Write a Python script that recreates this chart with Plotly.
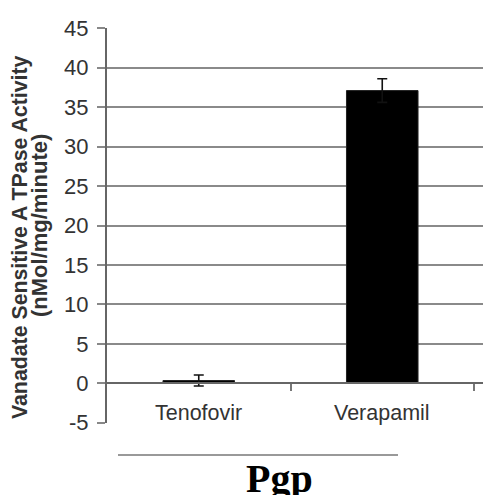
import plotly.graph_objects as go

categories = ["Tenofovir", "Verapamil"]
activity = [0.35, 37.1]
errors = [0.7, 1.5]
y_ticks = list(range(-5, 50, 5))
y_tick_text = [str(v) for v in y_ticks]
y_min, y_max = -5, 45
group_label = "Pgp"
y_title_lines = ["Vanadate Sensitive A TPase Activity", "(nMol/mg/minute)"]

# page has an 8px body margin; figure sized so it fits the 491x495 window
OFF = 8
W, H = 491 - OFF, 495 - OFF
PL, PT, PB = 107, 28, 423          # plot box edges in window pixels
PW = 491 - PL
ml, mt = PL - OFF, PT - OFF
mb = H - (PB - OFF)
mr = 0
x_range = [-0.5, -0.5 + PW / 183.5]
pad = 0.03


def px(sx):
    return (sx - PL) / PW


def py(sy):
    return (PB - sy) / (PB - PT)


fig = go.Figure()
fig.add_trace(go.Bar(
    x=list(range(len(categories))), y=activity, width=0.39,
    marker=dict(color="black", line=dict(color="#222", width=1)),
    error_y=dict(type="data", array=errors, visible=True, color="#111",
                 thickness=1.6, width=5),
    showlegend=False,
))

fig.update_layout(
    width=W, height=H,
    margin=dict(l=ml, r=mr, t=mt, b=mb, autoexpand=False),
    paper_bgcolor="white", plot_bgcolor="white",
    font=dict(family="Liberation Sans, Arial, sans-serif", color="#333"),
    xaxis=dict(
        range=x_range, anchor="free", automargin=False,
        position=(0 - (y_min - pad)) / ((y_max + pad) - (y_min - pad)),
        tickvals=[i + 0.5 for i in range(len(categories))],
        showticklabels=False, ticks="outside", ticklen=7, tickwidth=1.5,
        tickcolor="#777", showline=True, linecolor="#666", linewidth=1.5,
        showgrid=False, zeroline=False,
    ),
    yaxis=dict(
        range=[y_min - pad, y_max + pad], tickvals=y_ticks, ticktext=y_tick_text,
        automargin=False,
        ticks="outside", ticklen=8, tickwidth=1.5, tickcolor="#888",
        ticklabelstandoff=4,
        showline=True, linecolor="#666", linewidth=2,
        showgrid=True, gridcolor="#8a8a8a", gridwidth=1.5, zeroline=False,
        tickfont=dict(size=22, color="#333"),
    ),
    bargap=0.6,
)

# category labels sitting on the bottom gridline
for i, c in enumerate(categories):
    fig.add_annotation(x=i, y=y_min, xref="x", yref="y", text=c,
                       showarrow=False, yanchor="bottom", yshift=-4,
                       font=dict(size=21.5, color="#333"))

# y title (two lines)
fig.add_annotation(x=px(20), y=py(237), xref="paper", yref="paper",
                   text="<b>%s</b>" % y_title_lines[0], textangle=-90, showarrow=False,
                   xanchor="center", yanchor="middle",
                   font=dict(size=21.3, color="#333"))
fig.add_annotation(x=px(39), y=py(226), xref="paper", yref="paper",
                   text="<b>%s</b>" % y_title_lines[1], textangle=-90, showarrow=False,
                   xanchor="center", yanchor="middle",
                   font=dict(size=22, color="#333"))

# group bracket line and label
fig.add_shape(type="line", xref="paper", yref="paper",
              x0=px(118), x1=px(398), y0=py(455), y1=py(455),
              line=dict(color="#777", width=1.5))
fig.add_annotation(x=px(279), y=py(454), xref="paper", yref="paper",
                   text="<b>%s</b>" % group_label,
                   showarrow=False, xanchor="center", yanchor="top",
                   font=dict(family="Liberation Serif, Times New Roman, serif",
                             size=40, color="black"))

fig.write_html("out.html")
